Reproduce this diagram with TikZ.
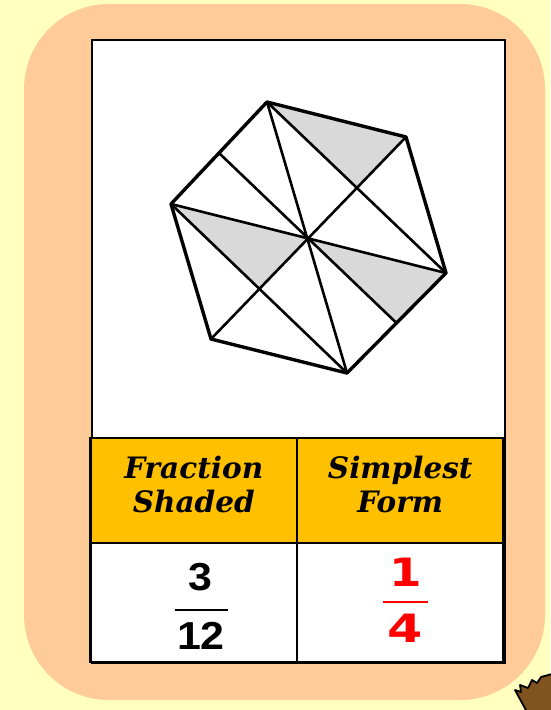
\documentclass[tikz,border=0pt]{standalone}
\usepackage{fontspec}
\usetikzlibrary{positioning,calc}
\newfontfamily\headfont{DejaVu Serif}
\newfontfamily\digitfont{Liberation Sans}
\newfontfamily\redfont{DejaVu Sans}
\definecolor{paleyellow}{HTML}{FFFFC0}
\definecolor{peach}{HTML}{FFCC99}
\definecolor{headgold}{HTML}{FFC000}
\definecolor{hexgray}{HTML}{D9D9D9}
\definecolor{crate}{HTML}{80531F}

\begin{document}
\begin{tikzpicture}[x=1pt, y=-1pt,
  cell/.style={draw, line width=2.4pt, inner sep=0pt, outer sep=0pt,
    minimum width=206.5pt},
  headcell/.style={cell, fill=headgold, minimum height=105pt},
  numcell/.style={cell, fill=white, minimum height=119pt},
  headtext/.style={align=center, inner sep=0pt,
    font=\headfont\bfseries\itshape\fontsize{29.5}{34}\selectfont},
  digit/.style={inner sep=0pt, font=\digitfont\bfseries\fontsize{39}{39}\selectfont},
  reddigit/.style={inner sep=0pt, text=red,
    font=\redfont\bfseries\fontsize{39}{39}\selectfont},
  edge/.style={line width=3.4pt, line join=round, line cap=round},
  inner/.style={line width=2.6pt, line cap=round}]
  \useasboundingbox (0,0) rectangle (550,710);
  \fill[paleyellow] (0,0) rectangle (550,710);
  \fill[peach, rounded corners=85pt] (24,4) rectangle (545,700);
  % box in the corner
  \filldraw[crate, draw=black, line width=1.8pt, line join=round]
    (515,690) -- (521,692) -- (520,685) -- (528,688) -- (532,680)
    -- (537,683) -- (541,677) -- (552,674) -- (552,712) -- (527,712) -- cycle;
  % card and table
  \node[draw, fill=white, line width=2.4pt, inner sep=0pt, minimum width=413pt,
    minimum height=623pt, anchor=north west] (card) at (90.5,39) {};
  \node[headcell, anchor=north west] (hdA) at (card.west |- 0,438) {};
  \node[headcell, right=0pt of hdA] (hdB) {};
  \node[numcell, below=0pt of hdA] (valA) {};
  \node[numcell, below=0pt of hdB] (valB) {};
  \node[headtext, yshift=6pt] (txtA) at (hdA.center) {Fraction\\Shaded};
  \node[headtext, yshift=6pt] (txtB) at (hdB.center) {Simplest\\Form};
  % hexagon
  \coordinate (T) at (267,102);
  \coordinate (UR) at (406,137);
  \coordinate (R) at (446,273);
  \coordinate (B) at (347,373);
  \coordinate (BL) at (211,339);
  \coordinate (L) at (171,204);
  \coordinate (C) at (308,238);
  \coordinate (mUR) at ($(UR)!0.5!(C)$);
  \coordinate (mBL) at ($(BL)!0.5!(C)$);
  \coordinate (mTL) at ($(T)!0.5!(L)$);
  \coordinate (mBR) at ($(R)!0.5!(B)$);
  \fill[hexgray] (T) -- (UR) -- (mUR) -- cycle;
  \fill[hexgray] (L) -- (C) -- (mBL) -- cycle;
  \fill[hexgray] (C) -- (R) -- (mBR) -- cycle;
  \draw[inner] (T) -- (B);
  \draw[inner] (UR) -- (BL);
  \draw[inner] (L) -- (R);
  \draw[inner] (mTL) -- (mBR);
  \draw[inner] (T) -- (R);
  \draw[inner] (L) -- (B);
  \draw[edge] (T) -- (UR) -- (R) -- (B) -- (BL) -- (L) -- cycle;
  % fractions
  \node[digit] (numA) at (200,577.5) {\scalebox{1.1}[1]{3}};
  \node[digit] (denA) at (201,635.5) {\scalebox{1.1}[1]{12}};
  \coordinate (barAl) at (175,610);
  \coordinate (barAr) at (228,610);
  \draw[line width=1.8pt] (barAl) -- (barAr);
  \node[reddigit] (numB) at (406,572.5) {\scalebox{1.2}[1]{1}};
  \node[reddigit] (denB) at (405,628.5) {\scalebox{1.3}[1]{4}};
  \coordinate (barBl) at (383,602);
  \coordinate (barBr) at (428,602);
  \draw[red, line width=2.2pt] (barBl) -- (barBr);
\end{tikzpicture}
\end{document}
